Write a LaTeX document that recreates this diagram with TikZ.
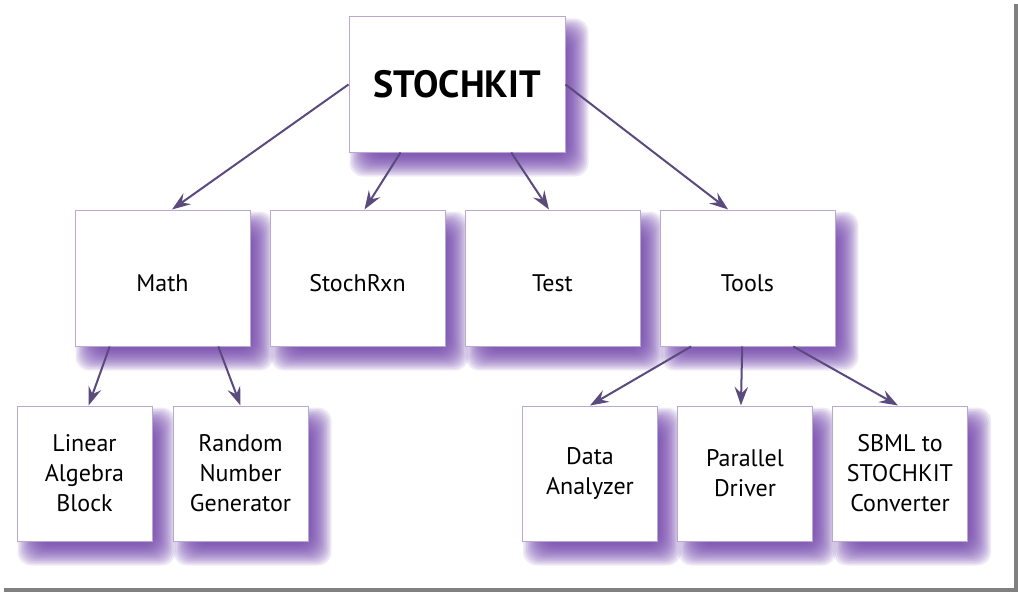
\documentclass[tikz,border=0pt]{standalone}
\usepackage{fontspec}
\setmainfont{PT Sans}
\usetikzlibrary{arrows.meta,calc,backgrounds}
\definecolor{arrowcol}{HTML}{5B4A7D}
\definecolor{boxline}{HTML}{B9A9D0}
\definecolor{shcol}{HTML}{6A3AA8}
\definecolor{framecol}{HTML}{808080}
\tikzset{
  box/.style={draw=boxline, line width=0.75pt, fill=white, align=center, inner sep=0pt,
     font=\fontsize{18}{22.5}\selectfont},
  midbox/.style={box, minimum width=131.25pt, minimum height=102pt,
     text height=20pt, text depth=0pt},
  smallbox/.style={box, minimum width=101.25pt, minimum height=101.25pt},
  topbox/.style={box, minimum width=162pt, minimum height=101.25pt,
     font=\fontsize{28.5}{32}\selectfont\bfseries},
  conn/.style={draw=arrowcol, line width=1.5pt,
     -{Stealth[length=14pt, width=10pt, inset=5pt]}},
  shadowlayer/.style={fill=shcol, opacity=0.1, rounded corners=10pt}
}
\begin{document}
\begin{tikzpicture}[x=0.75pt, y=-0.75pt]
\useasboundingbox (0,0) rectangle (1018,592);

\node[topbox] (top) at (457,84.5) {STOCHKIT};
\node[midbox] (math) at (162.5,278) {Math};
\node[midbox] (rxn) at (357.5,278) {StochRxn};
\node[midbox] (test) at (552.5,278) {Test};
\node[midbox] (tools) at (747.5,278) {Tools};
\node[smallbox] (lin) at (84.5,473.5) {Linear\\Algebra\\Block};
\node[smallbox] (rng) at (240.5,473.5) {Random\\Number\\Generator};
\node[smallbox] (data) at (590,473.5) {Data\\Analyzer};
\node[smallbox] (par) at (745,473.5) {Parallel\\Driver};
\node[smallbox] (sbml) at (900,473.5) {SBML to\\STOCHKIT\\Converter};

\begin{scope}[on background layer]
\fill[framecol] (4,4) rectangle (1018,592);
\fill[white] (0,0) rectangle (1014,588);
\foreach \n in {top,math,rxn,test,tools,lin,rng,data,par,sbml}{
  \foreach \r in {-10,-8.5,...,11}{
    \path[shadowlayer]
      ($(\n.south west)+(12-\r,13+\r)$) rectangle ($(\n.north east)+(12+\r,13-\r)$);
  }
}
\end{scope}

\draw[conn] (top.west) -- ($(math.north west)!0.554!(math.north east)$);
\draw[conn] ($(top.south west)!0.24!(top.south east)$) -- ($(rxn.north west)!0.54!(rxn.north east)$);
\draw[conn] ($(top.south west)!0.75!(top.south east)$) -- ($(test.north west)!0.48!(test.north east)$);
\draw[conn] (top.east) -- ($(tools.north west)!0.39!(tools.north east)$);
\draw[conn] ($(math.south west)!0.2!(math.south east)$) -- ($(lin.north west)!0.53!(lin.north east)$);
\draw[conn] ($(math.south west)!0.817!(math.south east)$) -- ($(rng.north west)!0.5!(rng.north east)$);
\draw[conn] ($(tools.south west)!0.18!(tools.south east)$) -- ($(data.north west)!0.5!(data.north east)$);
\draw[conn] ($(tools.south west)!0.47!(tools.south east)$) -- ($(par.north west)!0.47!(par.north east)$);
\draw[conn] ($(tools.south west)!0.76!(tools.south east)$) -- ($(sbml.north west)!0.485!(sbml.north east)$);
\end{tikzpicture}
\end{document}
